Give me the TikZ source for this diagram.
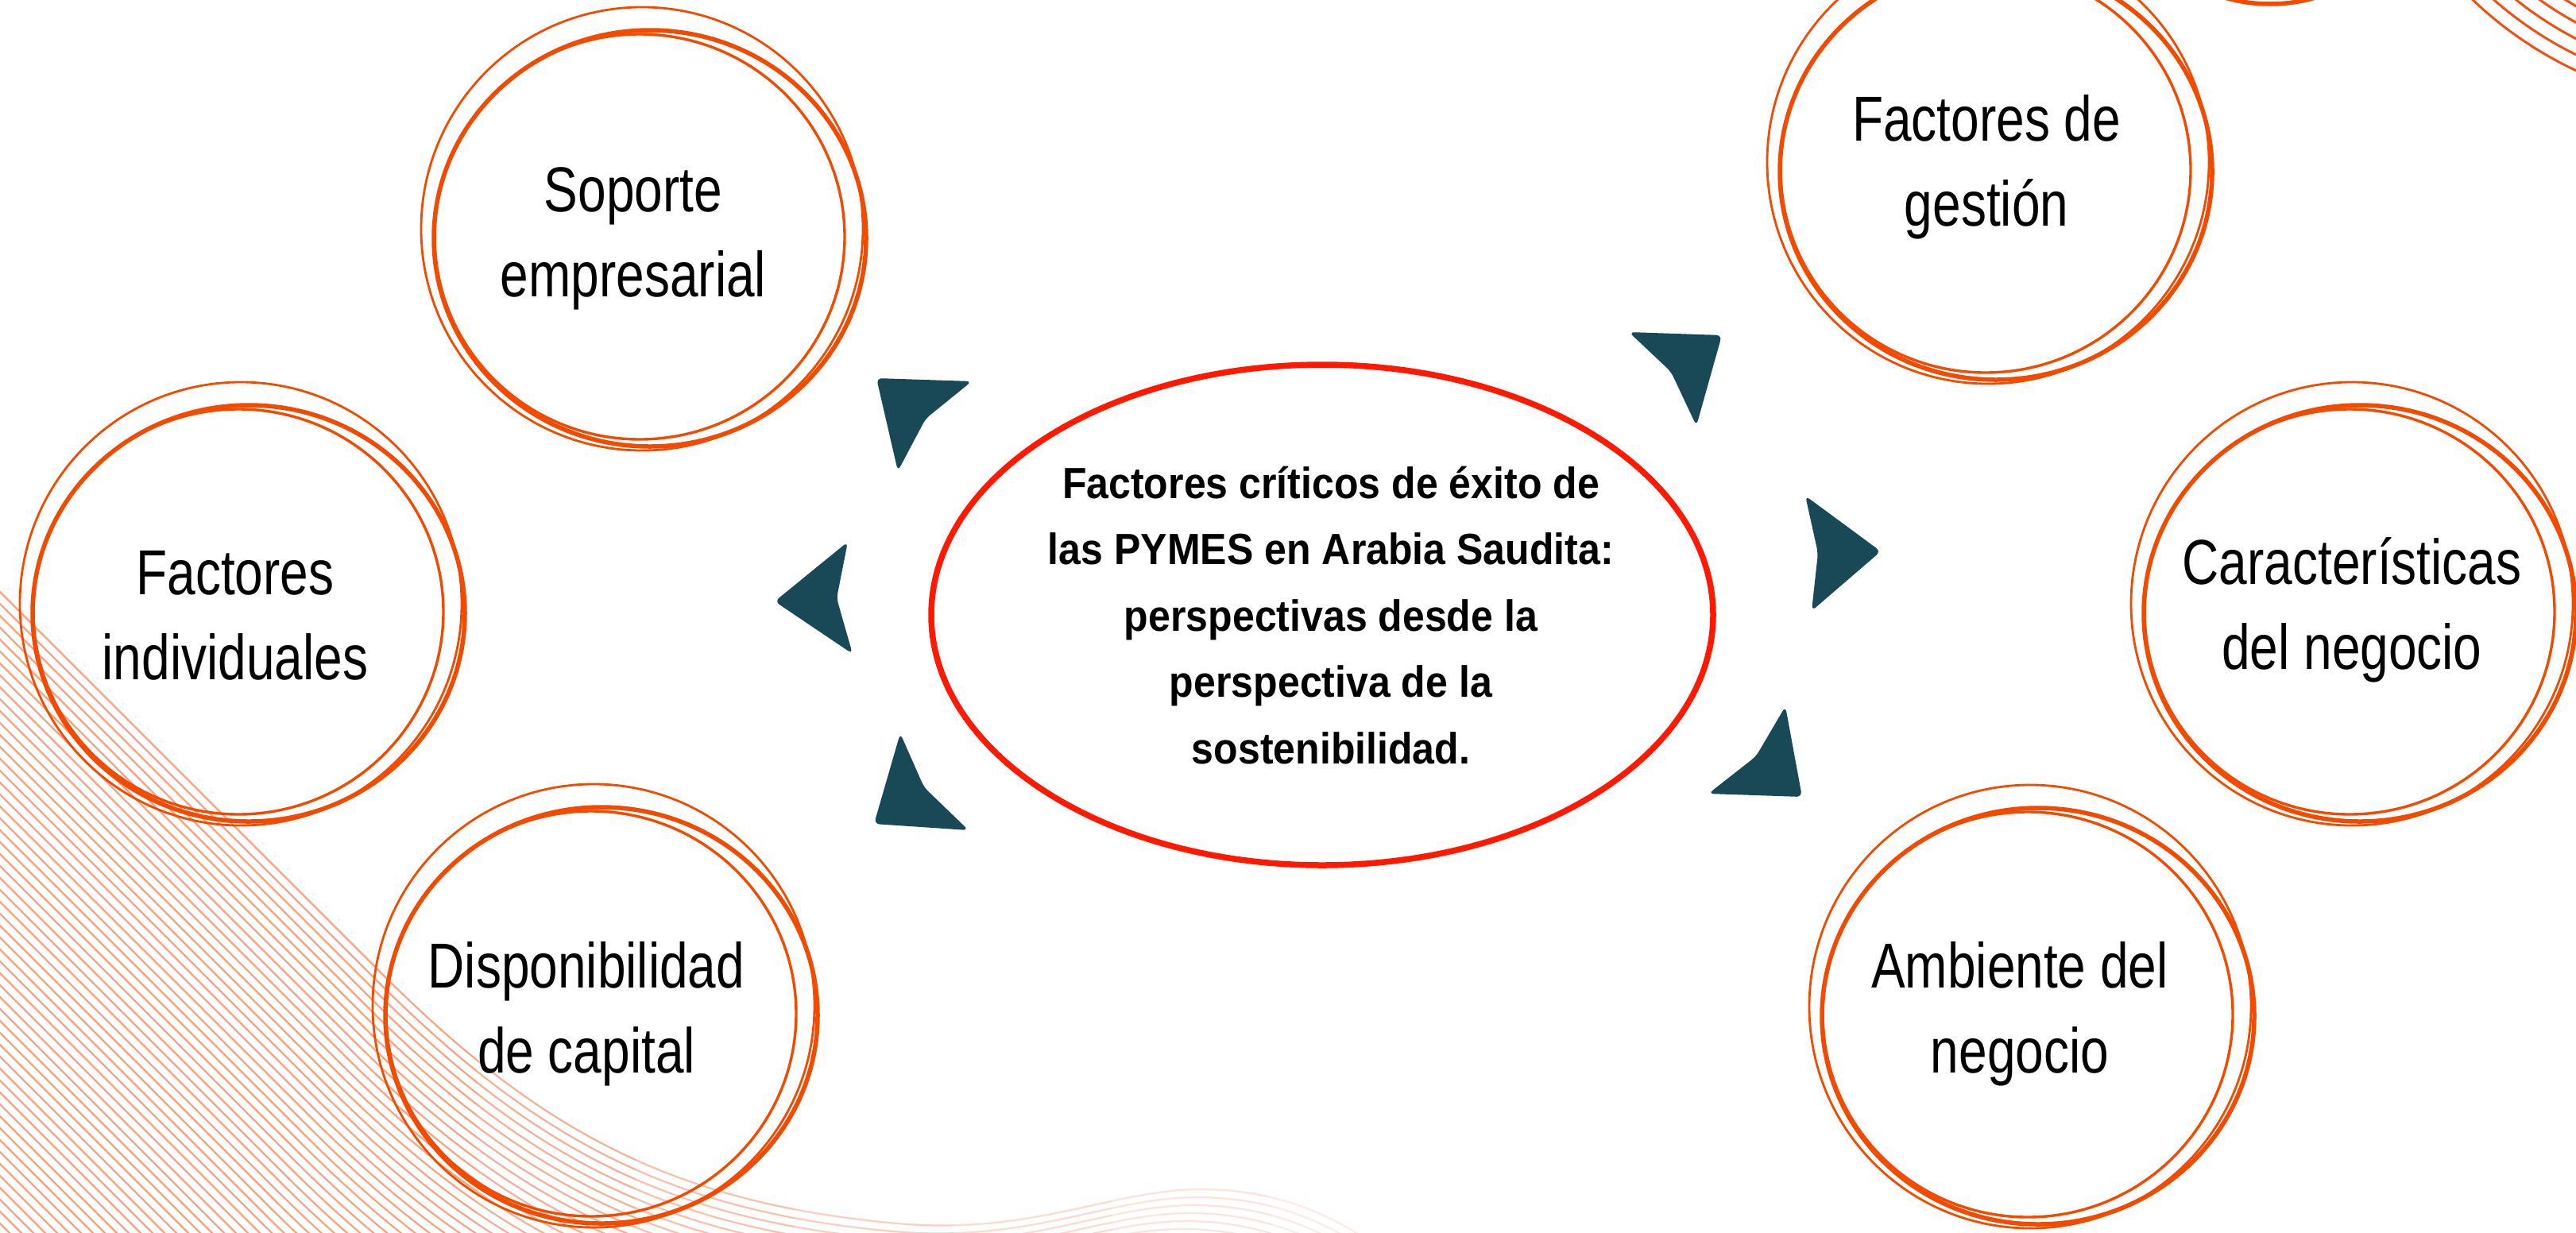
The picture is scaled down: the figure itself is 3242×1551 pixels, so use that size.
\documentclass[tikz,border=0pt]{standalone}
\usepackage{fontspec}
\newfontfamily\circfont[FakeStretch=0.80]{Liberation Sans}
\newfontfamily\titlefont[FakeStretch=0.91]{Liberation Sans}
\definecolor{loopor}{RGB}{242,75,0}
\definecolor{ellred}{RGB}{255,25,0}
\definecolor{arrowteal}{RGB}{25,73,87}
\definecolor{hatchbase}{RGB}{240,80,20}
\definecolor{arcor}{RGB}{240,80,20}
\newcommand\wavepath{(-300,445) -- (480,1225) .. controls (680,1425) and (850,1515) .. (1130,1540) .. controls (1300,1555) and (1400,1497) .. (1512,1497) .. controls (1620,1497) and (1700,1540) .. (1760,1590)}
\newcommand\sketchcircle[3]{%
  \begin{scope}[shift={(#2,#3)}]
    \coordinate (#1) at (0,0);
    \draw[loopA] (-2,-2) ellipse [x radius=278pt, y radius=279pt];
    \draw[loopB] (8,10) ellipse [x radius=272pt, y radius=262pt];
    \draw[loopC] (-5,8) ellipse [x radius=258pt, y radius=255pt];
  \end{scope}}
\newcommand\twolines[2]{\begin{tabular}[t]{@{}c@{}}#1\\#2\end{tabular}}
\begin{document}
\begin{tikzpicture}[x=1pt,y=-1pt,
  loopA/.style={draw=loopor, line width=2.8pt},
  loopB/.style={draw=loopor, line width=5.5pt},
  loopC/.style={draw=loopor, line width=3.4pt},
  circtext/.style={anchor=base, inner sep=0pt, font=\circfont\fontsize{80}{107}\selectfont},
  titletext/.style={anchor=base, inner sep=0pt, font=\titlefont\bfseries\fontsize{55}{83.5}\selectfont},
  arrowhead/.style={fill=arrowteal, rounded corners=7pt},
  hatchline/.style={line width=2.2pt},
  arcline/.style={draw=arcor, line width=3pt},
  mainellipse/.style={draw=ellred, line width=7.5pt}]
\path[use as bounding box] (0,0) rectangle (3242,1551);
\clip (0,0) rectangle (3242,1551);
\fill[white] (0,0) rectangle (3242,1551);

% background line family, bottom left
\foreach \xa/\xb/\pc in {-400/600/52, 600/800/45, 800/1000/36, 1000/1200/28, 1200/1400/21, 1400/1600/16, 1600/1900/11} {
  \begin{scope}
    \clip (\xa,-100) rectangle (\xb,1700);
    \foreach \k in {0,...,56} {
      \draw[hatchline, draw=hatchbase!\pc!white, shift={(-5*\k,10*\k)}] \wavepath;
    }
  \end{scope}
}

% top right arcs
\foreach \k in {0,...,5} {
  \draw[arcline] (3450,-355) circle [radius={490pt-\k*18pt}];
}
\draw[loopB] (2857,-200) circle [radius=205pt];

% sketched circles
\sketchcircle{soporte}{810}{290}
\sketchcircle{individ}{305}{762}
\sketchcircle{dispon}{749}{1268}
\sketchcircle{gestion}{2504}{206}
\sketchcircle{caract}{2962}{762}
\sketchcircle{ambiente}{2557}{1269}

% central ellipse
\coordinate (centro) at (1664,774);
\draw[mainellipse] (centro) ellipse [x radius=492pt, y radius=315pt];

% arrowheads
\fill[arrowhead] (1103,476) -- (1223,480) -- (1165,527) -- (1130,593) -- cycle;
\fill[arrowhead] (975,757) -- (1067,682) -- (1053,753) -- (1073,823) -- cycle;
\fill[arrowhead] (1100,1037) -- (1133,923) -- (1163,991) -- (1219,1045) -- cycle;
\fill[arrowhead] (2167,422) -- (2050,418) -- (2103,468) -- (2135,536) -- cycle;
\fill[arrowhead] (2367,694) -- (2272,624) -- (2288,696) -- (2280,769) -- cycle;
\fill[arrowhead] (2268,1003) -- (2247,889) -- (2210,952) -- (2150,999) -- cycle;

% texts
\node[circtext] (tsoporte) at (797,266) {\twolines{Soporte}{empresarial}};
\node[circtext] (tindivid) at (296,748) {\twolines{Factores}{individuales}};
\node[circtext] (tdispon) at (738,1243) {\twolines{Disponibilidad}{de capital}};
\node[circtext] (tgestion) at (2500,177) {\twolines{Factores de}{gestión}};
\node[circtext] (tcaract) at (2960,735) {\twolines{Características}{del negocio}};
\node[circtext] (tambiente) at (2542,1243) {\twolines{Ambiente del}{negocio}};
\node[titletext] (ttitulo) at (1675,627) {\begin{tabular}[t]{@{}c@{}}Factores críticos de éxito de\\las PYMES en Arabia Saudita:\\perspectivas desde la\\perspectiva de la\\sostenibilidad.\end{tabular}};
\end{tikzpicture}
\end{document}
